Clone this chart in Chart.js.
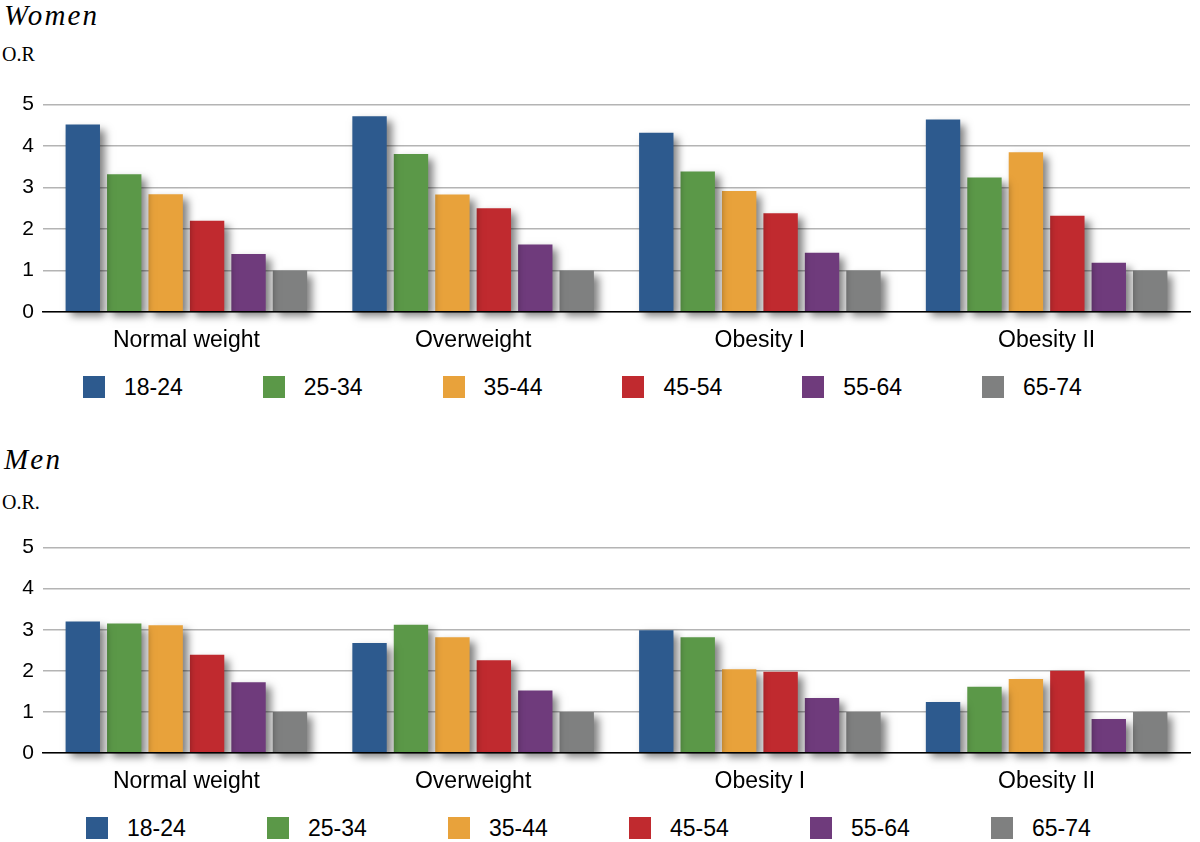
<!DOCTYPE html>
<html>
<head>
<meta charset="utf-8">
<script src="https://cdn.jsdelivr.net/npm/chart.js@4.4.0/dist/chart.umd.min.js"></script>
<style>
html, body { margin: 0; padding: 0; background: #fff; width: 1200px; height: 842px; overflow: hidden; }
body { position: relative; }
.ttl { position: absolute; left: 4px; font-family: "Liberation Serif", serif; font-style: italic; font-size: 29px; letter-spacing: 2.2px; line-height: 1; }
.or { position: absolute; left: 2px; font-family: "Liberation Serif", serif; font-size: 20px; line-height: 1; }
.wrap { position: absolute; left: 0; width: 1200px; height: 287px; }
.leg { position: absolute; left: 0; width: 1200px; height: 24px; font-family: "Liberation Sans", Arial, sans-serif; font-size: 23px; }
.leg .sw { position: absolute; top: 0; width: 22px; height: 22px; }
.leg .tx { position: absolute; top: -1px; line-height: 24px; }
</style>
</head>
<body>
<div class="ttl" style="top:1px">Women</div>
<div class="or" style="top:44px">O.R</div>
<div class="wrap" style="top:83px"><canvas id="women"></canvas></div>
<div class="leg" id="legWomen" style="top:376px"></div>

<div class="ttl" style="top:445px">Men</div>
<div class="or" style="top:492px">O.R.</div>
<div class="wrap" style="top:526px"><canvas id="men"></canvas></div>
<div class="leg" id="legMen" style="top:817px"></div>

<script>
var categories = ["Normal weight", "Overweight", "Obesity I", "Obesity II"];
var ageGroups = ["18-24", "25-34", "35-44", "45-54", "55-64", "65-74"];
var colors = ["#2d5a8e", "#5b9848", "#e8a23b", "#c02a2f", "#6f3b7c", "#7f8080"];
var yTicks = [0, 1, 2, 3, 4, 5];

// women, one array per age group, values per weight category
var women18_24 = [4.52, 4.72, 4.32, 4.64];
var women25_34 = [3.32, 3.81, 3.39, 3.24];
var women35_44 = [2.84, 2.83, 2.92, 3.85];
var women45_54 = [2.20, 2.50, 2.38, 2.32];
var women55_64 = [1.40, 1.63, 1.43, 1.19];
var women65_74 = [1, 1, 1, 1];

// men
var men18_24 = [3.20, 2.68, 2.99, 1.24];
var men25_34 = [3.15, 3.12, 2.82, 1.61];
var men35_44 = [3.11, 2.82, 2.04, 1.80];
var men45_54 = [2.39, 2.26, 1.98, 2.00];
var men55_64 = [1.72, 1.52, 1.34, 0.83];
var men65_74 = [1, 1, 1, 1];

var womenSeries = [women18_24, women25_34, women35_44, women45_54, women55_64, women65_74];
var menSeries = [men18_24, men25_34, men35_44, men45_54, men55_64, men65_74];

var barShadow = {
  id: 'barShadow',
  beforeDatasetsDraw: function(chart) {
    var c = chart.ctx;
    c.save();
    c.shadowColor = 'rgba(0,0,0,0.5)';
    c.shadowBlur = 8;
    c.shadowOffsetX = 5;
    c.shadowOffsetY = 5;
  },
  afterDatasetsDraw: function(chart) {
    chart.ctx.restore();
  }
};

function makeChart(id, series, xHeight) {
  var ctx = document.getElementById(id).getContext('2d');
  return new Chart(ctx, {
    type: 'bar',
    data: {
      labels: categories,
      datasets: series.map(function(vals, i) {
        return {
          label: ageGroups[i],
          data: vals,
          backgroundColor: colors[i],
          borderWidth: 0,
          categoryPercentage: 0.867,
          barPercentage: 0.83,
          clip: false
        };
      })
    },
    options: {
      responsive: true,
      maintainAspectRatio: false,
      animation: false,
      layout: { autoPadding: false, padding: { top: 7, left: 0, right: 10, bottom: 0 } },
      plugins: { legend: { display: false }, tooltip: { enabled: false } },
      scales: {
        x: {
          grid: { display: false },
          border: { display: true, color: '#000', width: 1.5, z: 1 },
          ticks: { color: '#000', padding: 7, font: { family: 'Liberation Sans', size: 23 } },
          afterFit: function(s) { s.height = xHeight; }
        },
        y: {
          min: 0,
          max: 5,
          afterBuildTicks: function(s) { s.ticks = yTicks.map(function(v) { return { value: v }; }); },
          grid: { color: '#b4b4b4', lineWidth: 1.5, drawTicks: false },
          border: { display: false },
          ticks: { color: '#000', padding: 9, font: { family: 'Liberation Sans', size: 21 } },
          afterFit: function(s) { s.width = 43; }
        }
      }
    },
    plugins: [barShadow]
  });
}

function makeLegend(id, start, step) {
  var el = document.getElementById(id);
  ageGroups.forEach(function(g, i) {
    var sw = document.createElement('span');
    sw.className = 'sw';
    sw.style.left = (start + i * step) + 'px';
    sw.style.background = colors[i];
    el.appendChild(sw);
    var tx = document.createElement('span');
    tx.className = 'tx';
    tx.style.left = (start + i * step + 41) + 'px';
    tx.textContent = g;
    el.appendChild(tx);
  });
}

makeChart('women', womenSeries, 58);
makeChart('men', menSeries, 60);
makeLegend('legWomen', 83, 179.8);
makeLegend('legMen', 86, 181);
</script>
</body>
</html>
